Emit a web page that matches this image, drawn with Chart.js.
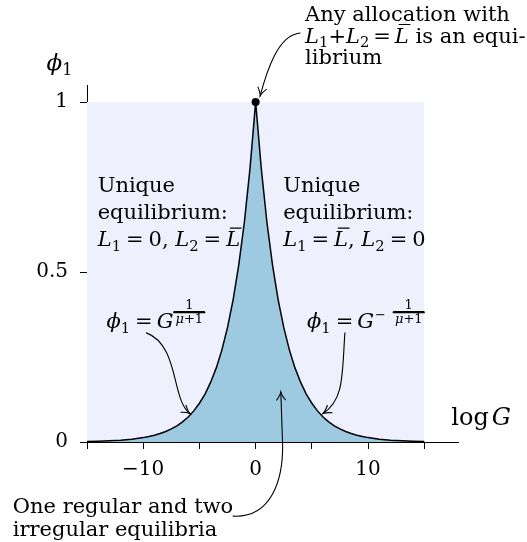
<!DOCTYPE html>
<html>
<head>
<meta charset="utf-8">
<script src="https://cdn.jsdelivr.net/npm/chart.js@4/dist/chart.umd.min.js"></script>
<style>
  html, body { margin: 0; padding: 0; background: #ffffff; }
  canvas { display: block; }
</style>
</head>
<body>
<canvas id="c" width="527" height="542"></canvas>
<script>
// log G on the horizontal axis, share phi_1 on the vertical axis
const logG = [-15,-14,-13,-12,-11,-10,-9.5,-9,-8.5,-8,-7.5,-7,-6.5,-6,-5.5,-5,-4.5,-4,-3.5,-3,-2.5,-2,-1.5,-1,-0.5,
              0,
              0.5,1,1.5,2,2.5,3,3.5,4,4.5,5,5.5,6,6.5,7,7.5,8,8.5,9,9.5,10,11,12,13,14,15];
const phi1 = [0.0015,0.0023,0.0035,0.0054,0.0084,0.0129,0.0161,0.0200,0.0248,0.0309,0.0384,0.0477,0.0593,0.0736,0.0915,0.114,0.141,0.176,0.218,0.271,0.337,0.419,0.521,0.647,0.805,
              1,
              0.805,0.647,0.521,0.419,0.337,0.271,0.218,0.176,0.141,0.114,0.0915,0.0736,0.0593,0.0477,0.0384,0.0309,0.0248,0.0200,0.0161,0.0129,0.0084,0.0054,0.0035,0.0023,0.0015];

// shaded region of admissible values
const regionX = [-15, 15];
const regionY = [1, 1];

// the symmetric point G = 1
const peakX = [0];
const peakY = [1];

const xTicks = [-15, -10, -5, 0, 5, 10, 15];
const xTickLabels = ['', '\u221210', '', '0', '', '10', ''];
const yTicks = [0, 0.5, 1];
const yTickLabels = ['0', '0.5', '1'];

const FONT = '"DejaVu Serif", serif';

// ---------- rich text helpers ----------
function fontStr(size, italic) {
  return (italic ? 'italic ' : '') + size.toFixed(1) + 'px ' + FONT;
}

// segs: {t, i (italic), sub, sup, bar (overline), frac:[num, den], gap, pre}
function drawRich(ctx, x, y, segs, size) {
  ctx.textBaseline = 'alphabetic';
  ctx.textAlign = 'left';
  for (const s of segs) {
    x += (s.pre || 0);
    if (s.frac) {
      const fs = size * 0.62;
      ctx.font = fontStr(fs, false);
      const wn = ctx.measureText(s.frac[0]).width;
      const wd = measureSegs(ctx, s.frac[1], fs);
      const w = Math.max(wn, wd) + 2;
      const barY = y - size * 0.76;
      ctx.fillText(s.frac[0], x + (w - wn) / 2, barY - 3);
      drawRich(ctx, x + (w - wd) / 2, barY + fs * 0.82, s.frac[1], fs);
      ctx.save();
      ctx.lineWidth = 2.4;
      ctx.strokeStyle = '#000';
      ctx.beginPath();
      ctx.moveTo(x, barY);
      ctx.lineTo(x + w, barY);
      ctx.stroke();
      ctx.restore();
      x += w + (s.gap || 0);
      continue;
    }
    let fs = size, dy = 0;
    if (s.sub) { fs = size * 0.7; dy = size * 0.22; }
    if (s.sup) { fs = size * 0.62; dy = -size * 0.42; }
    ctx.font = fontStr(fs, s.i);
    ctx.fillText(s.t, x, y + dy);
    const w = ctx.measureText(s.t).width;
    if (s.bar) {
      ctx.save();
      ctx.lineWidth = 1.2;
      ctx.strokeStyle = '#000';
      ctx.beginPath();
      ctx.moveTo(x + fs * 0.2, y + dy - fs * 0.86);
      ctx.lineTo(x + w + fs * 0.05, y + dy - fs * 0.86);
      ctx.stroke();
      ctx.restore();
    }
    x += w + (s.gap || 0);
  }
  return x;
}

function measureSegs(ctx, segs, size) {
  let w = 0;
  for (const s of segs) {
    let fs = size;
    if (s.sub) fs = size * 0.7;
    if (s.sup) fs = size * 0.62;
    ctx.font = fontStr(fs, s.i);
    w += ctx.measureText(s.t).width + (s.gap || 0) + (s.pre || 0);
  }
  return w;
}

// ---------- annotation content (positions in axis units) ----------
const L = (sub) => [{t: 'L', i: 1}, {t: sub, sub: 1}];
const Lbar = {t: 'L', i: 1, bar: 1};
const EQ = {t: '=', pre: 5, gap: 5};

const textBlocks = [
  { at: [-14.05, 0.735], size: 21, lh: 27, lines: [
      [{t: 'Unique'}],
      [{t: 'equilibrium:'}],
      [...L('1'), EQ, {t: '0, '}, ...L('2'), EQ, Lbar]
  ]},
  { at: [2.45, 0.735], size: 21, lh: 27, lines: [
      [{t: 'Unique'}],
      [{t: 'equilibrium:'}],
      [...L('1'), EQ, Lbar, {t: ', '}, ...L('2'), EQ, {t: '0'}]
  ]},
  { at: [4.4, 1.238], size: 21, lh: 21.5, lines: [
      [{t: 'Any allocation with'}],
      [...L('1'), {t: '+'}, ...L('2'), {t: '=', pre: 4, gap: 4}, Lbar, {t: ' is an equi-'}],
      [{t: 'librium'}]
  ]},
  { at: [-21.6, -0.209], size: 21, lh: 23, lines: [
      [{t: 'One regular and two'}],
      [{t: 'irregular equilibria'}]
  ]},
  { at: [-13.27, 0.335], size: 21, lh: 0, lines: [
      [{t: '\u03D5', i: 1}, {t: '1', sub: 1}, {t: '=', pre: 5, gap: 4}, {t: 'G', i: 1, gap: 1},
       {frac: ['1', [{t: '\u03BC', i: 1}, {t: '+1'}]]}]
  ]},
  { at: [4.57, 0.335], size: 21, lh: 0, lines: [
      [{t: '\u03D5', i: 1}, {t: '1', sub: 1}, {t: '=', pre: 5, gap: 4}, {t: 'G', i: 1, gap: 1},
       {t: '\u2212', sup: 1, gap: 8},
       {frac: ['1', [{t: '\u03BC', i: 1}, {t: '+1'}]]}]
  ]},
  { at: [17.4, 0.05], size: 24, lh: 0, lines: [
      [{t: 'log', gap: 3}, {t: 'G', i: 1}]
  ]},
  { at: [-18.6, 1.094], size: 23, lh: 0, lines: [
      [{t: '\u03D5', i: 1}, {t: '1', sub: 1}]
  ]}
];

// curved pointers: cubic segment [p0, c1, c2, p3] and an optional straight tail to the tip
const pointers = [
  { curve: [[-9.72, 0.321], [-6.79, 0.285], [-7.50, 0.124], [-5.85, 0.084]] },
  { curve: [[7.94, 0.321], [7.68, 0.200], [7.90, 0.125], [6.00, 0.084]] },
  { curve: [[-2.0, -0.218], [1.38, -0.224], [2.44, -0.112], [2.40, -0.009]], tail: [2.24, 0.147] },
  { curve: [[3.95, 1.203], [2.0, 1.197], [1.02, 1.094], [0.40, 1.018]] }
];

const annotationPlugin = {
  id: 'annotations',
  afterDatasetsDraw(chart) {
    const ctx = chart.ctx;
    const xs = chart.scales.x, ys = chart.scales.y;
    const P = (p) => [xs.getPixelForValue(p[0]), ys.getPixelForValue(p[1])];
    ctx.save();
    ctx.fillStyle = '#000';
    ctx.strokeStyle = '#000';

    // pointers
    ctx.lineWidth = 1.1;
    ctx.lineCap = 'round';
    for (const a of pointers) {
      const [p0, c1, c2, p3] = a.curve.map(P);
      ctx.beginPath();
      ctx.moveTo(p0[0], p0[1]);
      ctx.bezierCurveTo(c1[0], c1[1], c2[0], c2[1], p3[0], p3[1]);
      let from = c2, tip = p3;
      if (a.tail) {
        const t = P(a.tail);
        ctx.lineTo(t[0], t[1]);
        from = p3; tip = t;
      }
      ctx.stroke();
      const ang = Math.atan2(tip[1] - from[1], tip[0] - from[0]);
      const len = 9, spread = 0.5;
      ctx.beginPath();
      ctx.moveTo(tip[0] - len * Math.cos(ang - spread), tip[1] - len * Math.sin(ang - spread));
      ctx.quadraticCurveTo(tip[0] - 3 * Math.cos(ang - 0.2), tip[1] - 3 * Math.sin(ang - 0.2), tip[0], tip[1]);
      ctx.quadraticCurveTo(tip[0] - 3 * Math.cos(ang + 0.2), tip[1] - 3 * Math.sin(ang + 0.2),
                           tip[0] - len * Math.cos(ang + spread), tip[1] - len * Math.sin(ang + spread));
      ctx.stroke();
    }

    // text
    for (const b of textBlocks) {
      const [px, py] = P(b.at);
      b.lines.forEach((line, k) => drawRich(ctx, px, py + k * b.lh, line, b.size));
    }
    ctx.restore();
  }
};

Chart.defaults.font.family = FONT;
Chart.defaults.color = '#000';

new Chart(document.getElementById('c'), {
  type: 'line',
  data: {
    datasets: [
      {
        label: 'peak',
        data: peakX.map((x, i) => ({x, y: peakY[i]})),
        showLine: false,
        pointRadius: 4,
        pointBackgroundColor: '#000',
        pointBorderWidth: 0,
        order: 1
      },
      {
        label: 'phi1',
        data: logG.map((x, i) => ({x, y: phi1[i]})),
        borderColor: '#000',
        borderWidth: 1.5,
        backgroundColor: '#9ecae1',
        fill: 'origin',
        tension: 0,
        pointRadius: 0,
        order: 2
      },
      {
        label: 'region',
        data: regionX.map((x, i) => ({x, y: regionY[i]})),
        borderWidth: 0,
        borderColor: 'rgba(0,0,0,0)',
        backgroundColor: '#eef1fd',
        fill: 'origin',
        pointRadius: 0,
        order: 3
      }
    ]
  },
  options: {
    responsive: false,
    animation: false,
    devicePixelRatio: 1,
    clip: false,
    layout: { padding: { top: 85, right: 69, left: 0, bottom: 0 } },
    plugins: { legend: { display: false }, tooltip: { enabled: false } },
    scales: {
      x: {
        type: 'linear',
        min: -15,
        max: 18,
        afterBuildTicks: (s) => { s.ticks = xTicks.map(v => ({value: v})); },
        afterFit: (s) => { s.height = 100; },
        ticks: {
          autoSkip: false,
          maxRotation: 0,
          padding: 9,
          font: { size: 20, family: FONT },
          color: '#000',
          callback: (v) => { const i = xTicks.indexOf(v); return i >= 0 ? xTickLabels[i] : ''; }
        },
        grid: { drawOnChartArea: false, drawTicks: true, tickLength: 7, color: '#000', lineWidth: 1 },
        border: { display: true, color: '#000', width: 1 }
      },
      y: {
        type: 'linear',
        min: 0,
        max: 1.05,
        afterBuildTicks: (s) => { s.ticks = yTicks.map(v => ({value: v})); },
        afterFit: (s) => { s.width = 87; },
        ticks: {
          autoSkip: false,
          padding: 12,
          font: { size: 20, family: FONT },
          color: '#000',
          callback: (v) => { const i = yTicks.indexOf(v); return i >= 0 ? yTickLabels[i] : ''; }
        },
        grid: { drawOnChartArea: false, drawTicks: true, tickLength: 7, color: '#000', lineWidth: 1 },
        border: { display: true, color: '#000', width: 1 }
      }
    }
  },
  plugins: [annotationPlugin]
});
</script>
</body>
</html>
